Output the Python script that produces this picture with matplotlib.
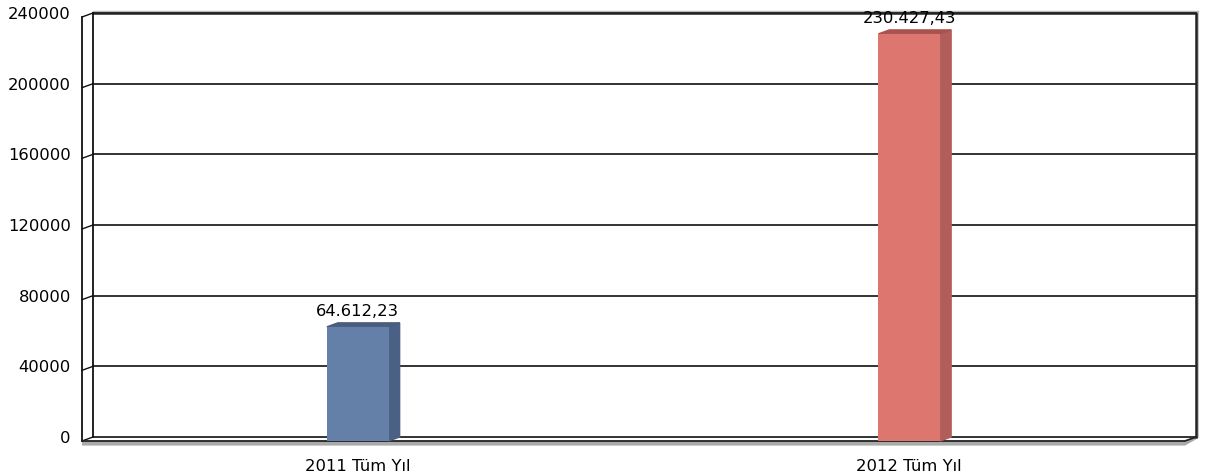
import matplotlib
matplotlib.use("Agg")
import matplotlib.pyplot as plt
from matplotlib.patches import Polygon

categories = ["2011 Tüm Yıl", "2012 Tüm Yıl"]
values = [64612.23, 230427.43]
value_labels = ["64.612,23", "230.427,43"]
yticks = [0, 40000, 80000, 120000, 160000, 200000, 240000]

front_colors = ["#6580A8", "#DE7670"]
side_colors = ["#4B6085", "#B15E5A"]
top_colors = ["#4A5D7F", "#A9534F"]

plt.rcParams["font.family"] = ["DejaVu Sans"]

fig = plt.figure(figsize=(12.1, 4.75), dpi=100)
ax = fig.add_axes([93 / 1210, 38 / 475, 1103 / 1210, 424 / 475])
ax.set_xlim(-0.5, 1.5)
ax.set_ylim(0, 240000)

# depth offset of the front plane, in data units (about 11 px left, 4 px down)
dx = -11 / 1103 * 2.0
dy = -4 / 424 * 240000

for s in ax.spines.values():
    s.set_visible(False)

# back wall gridlines + matching lines on the left side wall
for t in yticks:
    ax.plot([-0.5, 1.5], [t, t], color="#111111", lw=1.2, clip_on=False, zorder=1)
    ax.plot([-0.5 + dx, -0.5], [t + dy, t], color="#111111", lw=1.0, clip_on=False, zorder=1)

# back wall border with a grey shadow
ax.plot([-0.5, 1.5, 1.5], [240000, 240000, 0], color="#222222", lw=1.8, clip_on=False, zorder=2)
ax.plot([-0.5, 1.5 + 0.003], [240000 + 900, 240000 + 900], color="#BBBBBB", lw=1.0, clip_on=False, zorder=1)
ax.plot([1.5 + 0.004, 1.5 + 0.004], [240000, 0], color="#BBBBBB", lw=1.2, clip_on=False, zorder=1)

# left side wall
ax.plot([-0.5, -0.5], [0, 240000], color="#111111", lw=1.3, clip_on=False, zorder=2)
ax.plot([-0.5 + dx, -0.5 + dx], [dy, 240000 + dy], color="#111111", lw=1.3, clip_on=False, zorder=2)

# floor slab
ax.plot([-0.5 + dx, 1.5 + dx, 1.5], [dy, dy, 0], color="#222222", lw=1.3, clip_on=False, zorder=2)
ax.fill([-0.5 + dx, 1.5 + dx, 1.5, 1.5, 1.5 + dx, -0.5 + dx],
        [dy, dy, 0, -1400, dy - 2600, dy - 2600],
        color="#AAAAAA", clip_on=False, zorder=1, lw=0)

w = 0.112
xs = [0, 1]
for i, (x, v) in enumerate(zip(xs, values)):
    l = x - w / 2
    r = x + w / 2
    ax.bar(x + dx, v, width=w, bottom=dy, color=front_colors[i], zorder=4, clip_on=False)
    ax.add_patch(Polygon([(r + dx, dy), (r, 0), (r, v), (r + dx, v + dy)],
                         closed=True, color=side_colors[i], zorder=3, clip_on=False))
    ax.add_patch(Polygon([(l + dx, v + dy), (l, v), (r, v), (r + dx, v + dy)],
                         closed=True, color=top_colors[i], zorder=3, clip_on=False))
    ax.annotate(value_labels[i], (x + dx, v), xytext=(0, 3), textcoords="offset points",
                ha="center", va="bottom", fontsize=11.8, color="black", zorder=5)

ax.set_yticks(yticks)
ax.set_yticklabels([str(t) for t in yticks], fontsize=11.8)
ax.set_xticks([x + dx for x in xs])
ax.set_xticklabels(categories, fontsize=11.8)
ax.tick_params(axis="y", length=0, pad=16)
ax.tick_params(axis="x", length=0, pad=16)

fig.savefig("out.png", dpi=100)
